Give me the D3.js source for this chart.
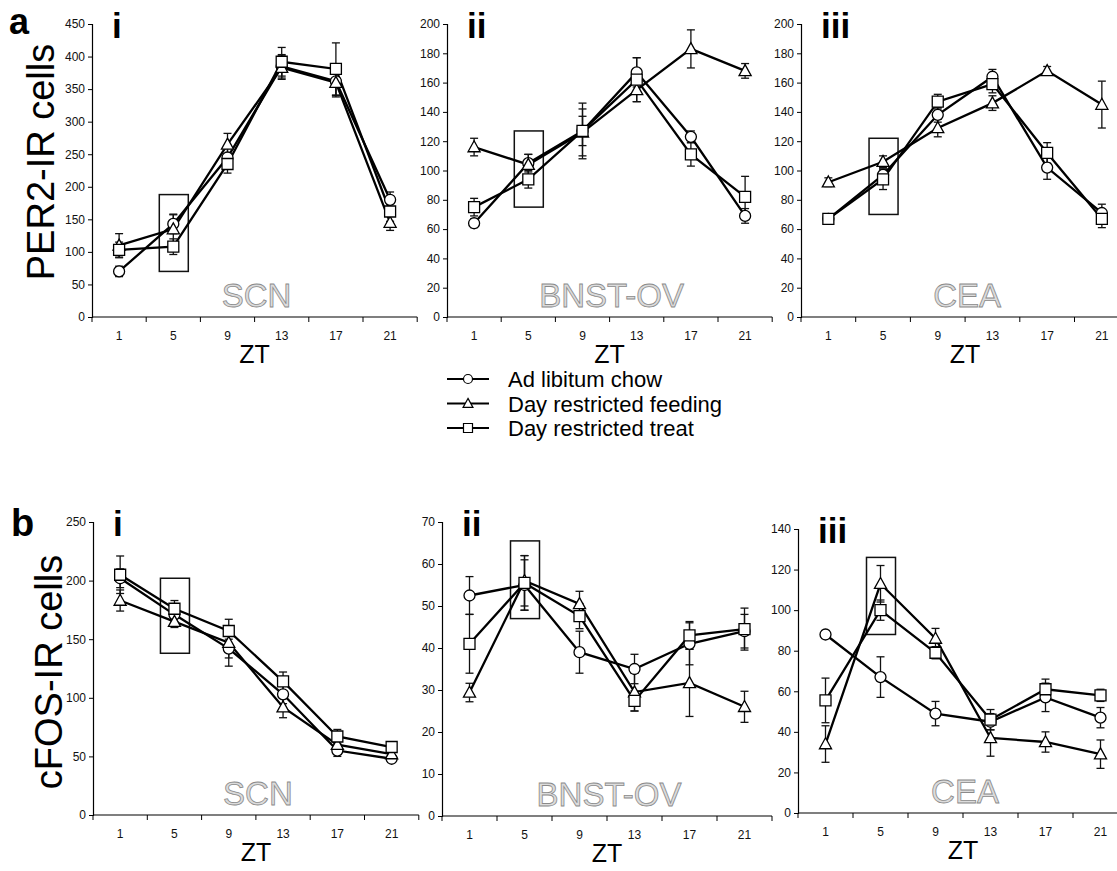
<!DOCTYPE html>
<html>
<head>
<meta charset="utf-8">
<script src="https://cdn.jsdelivr.net/npm/d3@7/dist/d3.min.js"></script>
<style>
  body { margin: 0; background: #fff; }
  svg { display: block; }
  .tick text { font-family: "Liberation Sans Narrow", "Arial Narrow", "Liberation Sans", sans-serif; font-size: 12px; fill: #111; }
  .big { font-family: "Liberation Sans", Arial, sans-serif; }
</style>
</head>
<body>
<script>
// ---- data ----
var zt = ["1", "5", "9", "13", "17", "21"];
var seriesNames = ["Ad libitum chow", "Day restricted feeding", "Day restricted treat"];
var shapes = ["circle", "triangle", "square"];
var regions = ["SCN", "BNST-OV", "CEA"];
var romans = ["i", "ii", "iii"];

// PER2-IR means / SEM, rows: chow, restricted feeding, restricted treat
var per2ScnMean  = [[70, 143, 245, 385, 362, 180], [110, 135, 265, 383, 360, 145], [103, 108, 235, 392, 381, 162]];
var per2ScnSem   = [[8, 15, 18, 18, 22, 12], [18, 22, 17, 18, 22, 12], [12, 12, 14, 22, 40, 15]];
var per2BnstMean = [[64, 105, 127, 167, 123, 69], [116, 104, 126, 155, 183, 168], [75, 94, 127, 162, 111, 82]];
var per2BnstSem  = [[3, 6, 10, 10, 4, 5], [6, 7, 16, 8, 13, 5], [6, 6, 19, 15, 8, 14]];
var per2CeaMean  = [[67, 97, 138, 164, 102, 71], [92, 106, 129, 146, 168, 145], [67, 94, 147, 159, 112, 67]];
var per2CeaSem   = [[3, 4, 5, 5, 8, 6], [3, 4, 6, 5, 3, 16], [3, 7, 5, 6, 7, 6]];

// cFOS-IR means / SEM
var cfosScnMean  = [[202, 171, 142, 103, 55, 48], [183, 165, 147, 92, 60, 52], [205, 176, 157, 114, 67, 58]];
var cfosScnSem   = [[8, 6, 8, 8, 5, 3], [9, 5, 20, 9, 5, 3], [16, 7, 4, 8, 6, 3]];
var cfosBnstMean = [[52.5, 55, 39, 35, 41, 44], [29.4, 56, 50.5, 29.5, 31.7, 26], [41, 55.5, 47.6, 27.4, 43, 44.5]];
var cfosBnstSem  = [[4.5, 6, 5, 3.5, 5, 4], [2.2, 6, 3, 4.5, 8, 3.7], [7, 6.5, 3, 2.4, 3.3, 5]];
var cfosCeaMean  = [[88, 67, 49, 45, 57, 47], [34, 113, 86, 37, 35, 29], [55.5, 100, 79, 46, 61, 58]];
var cfosCeaSem   = [[2, 10, 6, 4, 7, 5], [9, 9, 5, 9, 5, 7], [11, 5, 3, 5, 5, 3]];

// y-axis maxima and tick steps
var per2Max = [450, 200, 200], per2Step = [50, 20, 20];
var cfosMax = [250, 70, 140], cfosStep = [50, 10, 20];

// highlighted ZT5 box (value range)
var per2Box = [[70, 188], [75, 127], [70, 122]];
var cfosBox = [[138, 202], [47, 65.5], [88, 126]];

var svg = d3.select("body").append("svg")
    .attr("width", 1117)
    .attr("height", 871);

function markerPath(shape, s) {
    if (shape === "circle") {
        return d3.symbol().type(d3.symbolCircle).size(Math.PI * s * s)();
    }
    if (shape === "square") {
        return "M" + (-s) + "," + (-s) + "h" + 2 * s + "v" + 2 * s + "h" + (-2 * s) + "Z";
    }
    var h = s * 1.9;
    return "M0," + (-h * 0.6) + "L" + (s * 1.1) + "," + (h * 0.45) + "L" + (-s * 1.1) + "," + (h * 0.45) + "Z";
}

function drawPanel(p) {
    var g = svg.append("g");
    var x = d3.scaleBand().domain(zt).range([p.x0, p.x0 + 6 * p.bw]);
    var y = d3.scaleLinear().domain([0, p.max]).range([p.yb, p.yt]);

    // y axis
    g.append("g")
        .attr("transform", "translate(" + p.x0 + ",0)")
        .call(d3.axisLeft(y).tickValues(d3.range(0, p.max + 0.01, p.step)).tickSize(4).tickPadding(3))
        .call(function (a) { a.select(".domain").attr("stroke-width", 1.2); });

    // x axis: line + band boundary ticks + labels
    g.append("line")
        .attr("x1", p.x0).attr("x2", p.x0 + 6 * p.bw)
        .attr("y1", p.yb).attr("y2", p.yb)
        .attr("stroke", "#000").attr("stroke-width", 1.2);
    g.selectAll(".bt").data(d3.range(7)).enter().append("line")
        .attr("x1", function (i) { return p.x0 + i * p.bw; })
        .attr("x2", function (i) { return p.x0 + i * p.bw; })
        .attr("y1", p.yb).attr("y2", p.yb + 5)
        .attr("stroke", "#000");
    g.append("g")
        .attr("transform", "translate(0," + p.yb + ")")
        .call(d3.axisBottom(x).tickSize(0).tickPadding(14))
        .call(function (a) { a.select(".domain").remove(); });

    var mid = (x("9") + x("13")) / 2 + p.bw / 2;

    // ZT label
    g.append("text").attr("class", "big")
        .attr("x", mid)
        .attr("y", p.yb + 46)
        .attr("text-anchor", "middle")
        .attr("font-size", 25)
        .style("fill", "#000")
        .text("ZT");

    // region label (grey outline text)
    g.append("text").attr("class", "big")
        .attr("x", mid + 2)
        .attr("y", p.yb - 10)
        .attr("text-anchor", "middle")
        .attr("font-size", 33)
        .style("fill", "#dcdcdc")
        .style("stroke", "#8a8a8a")
        .style("stroke-width", 0.8)
        .text(p.region);

    // roman numeral
    g.append("text").attr("class", "big")
        .attr("x", p.x0 + 20)
        .attr("y", p.yt + 14)
        .attr("font-size", 35)
        .attr("font-weight", "bold")
        .style("fill", "#000")
        .text(p.roman);

    // highlight box
    var bx = x("5") + p.bw / 2;
    g.append("rect")
        .attr("x", bx - 14).attr("width", 29)
        .attr("y", y(p.box[1]))
        .attr("height", y(p.box[0]) - y(p.box[1]))
        .attr("fill", "none").attr("stroke", "#111").attr("stroke-width", 1.5);

    var cx = function (i) { return x(zt[i]) + p.bw / 2; };
    var line = d3.line().x(function (d, i) { return cx(i); }).y(function (d) { return y(d); });

    // error bars
    p.mean.forEach(function (m, s) {
        var eb = g.append("g").attr("stroke", "#111").attr("stroke-width", 1.3);
        m.forEach(function (v, i) {
            var e = p.sem[s][i];
            eb.append("line").attr("x1", cx(i)).attr("x2", cx(i)).attr("y1", y(v - e)).attr("y2", y(v + e));
            [v - e, v + e].forEach(function (w) {
                eb.append("line").attr("x1", cx(i) - 4).attr("x2", cx(i) + 4).attr("y1", y(w)).attr("y2", y(w));
            });
        });
    });

    // lines
    p.mean.forEach(function (m) {
        g.append("path").datum(m)
            .attr("d", line)
            .attr("fill", "none").attr("stroke", "#000").attr("stroke-width", 2.3);
    });

    // markers
    p.mean.forEach(function (m, s) {
        g.selectAll(null).data(m).enter().append("path")
            .attr("transform", function (d, i) { return "translate(" + cx(i) + "," + y(d) + ")"; })
            .attr("d", markerPath(shapes[s], 5.5))
            .attr("fill", "#fff").attr("stroke", "#000").attr("stroke-width", 1.3);
    });
}

var topX0 = [92, 447, 801], topBw = [54.2, 54.2, 54.7];
var botX0 = [93, 442, 798], botBw = [54.3, 55, 55];
var botYt = [522, 522, 529], botYb = [815, 816, 813];
var per2Mean = [per2ScnMean, per2BnstMean, per2CeaMean], per2Sem = [per2ScnSem, per2BnstSem, per2CeaSem];
var cfosMean = [cfosScnMean, cfosBnstMean, cfosCeaMean], cfosSem = [cfosScnSem, cfosBnstSem, cfosCeaSem];

for (var k = 0; k < 3; k++) {
    drawPanel({ x0: topX0[k], bw: topBw[k], yt: 24, yb: 317, max: per2Max[k], step: per2Step[k],
        mean: per2Mean[k], sem: per2Sem[k], box: per2Box[k], region: regions[k], roman: romans[k] });
    drawPanel({ x0: botX0[k], bw: botBw[k], yt: botYt[k], yb: botYb[k], max: cfosMax[k], step: cfosStep[k],
        mean: cfosMean[k], sem: cfosSem[k], box: cfosBox[k], region: regions[k], roman: romans[k] });
}

// panel letters and y titles
svg.append("text").attr("class", "big").attr("x", 9).attr("y", 34)
    .attr("font-size", 36).attr("font-weight", "bold").style("fill", "#000").text("a");
svg.append("text").attr("class", "big").attr("x", 11).attr("y", 536)
    .attr("font-size", 38).attr("font-weight", "bold").style("fill", "#000").text("b");
svg.append("text").attr("class", "big")
    .attr("transform", "translate(54,162) rotate(-90)")
    .attr("text-anchor", "middle").attr("font-size", 38).style("fill", "#000").text("PER2-IR cells");
svg.append("text").attr("class", "big")
    .attr("transform", "translate(62,672) rotate(-90)")
    .attr("text-anchor", "middle").attr("font-size", 38).style("fill", "#000").text("cFOS-IR cells");

// legend
var legend = svg.append("g");
seriesNames.forEach(function (name, s) {
    var ly = 379 + s * 24.5;
    legend.append("line").attr("x1", 447).attr("x2", 489).attr("y1", ly).attr("y2", ly)
        .attr("stroke", "#000").attr("stroke-width", 2);
    legend.append("path").attr("transform", "translate(468," + ly + ")")
        .attr("d", markerPath(shapes[s], 4.5))
        .attr("fill", "#fff").attr("stroke", "#000").attr("stroke-width", 1.2);
    legend.append("text").attr("class", "big")
        .attr("x", 508).attr("y", ly + 8)
        .attr("font-size", 22).style("fill", "#000").text(name);
});
</script>
</body>
</html>
